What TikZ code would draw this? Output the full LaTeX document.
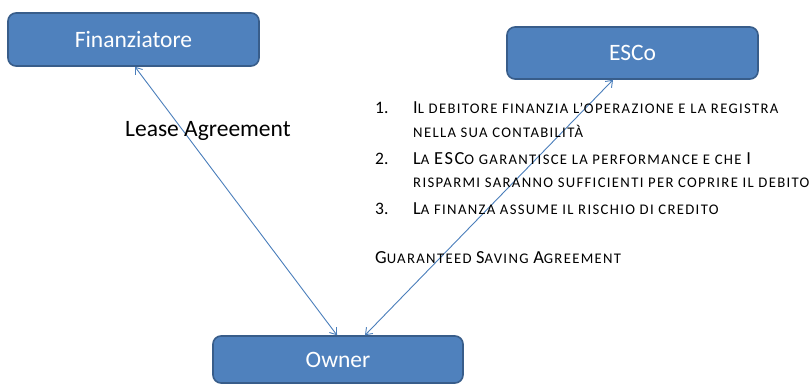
\documentclass[tikz,border=0pt]{standalone}
\usepackage{fontspec}
\setmainfont{Carlito}
\newfontfamily\listfont[LetterSpace=9]{Carlito}
\usetikzlibrary{arrows.meta}
\definecolor{boxfill}{HTML}{4F81BD}
\definecolor{boxline}{HTML}{385D8A}
\definecolor{connc}{HTML}{4A7EBB}
\newcommand\BigC[1]{{\fontsize{18.4}{21}\selectfont #1}}
\begin{document}
\begin{tikzpicture}[x=1pt,y=-1pt,
  blockbox/.style={draw=boxline, line width=1.6pt, fill=boxfill, rounded corners=8pt,
    text=white, font=\fontsize{23.5}{28}\selectfont, inner sep=0pt},
  conn/.style={draw=connc, line width=0.9pt, {Straight Barb[length=6pt,width=9pt]}-{Straight Barb[length=6pt,width=9pt]}},
  listtxt/.style={anchor=base west, inner sep=0pt, font=\listfont\fontsize{14.7}{17}\selectfont},
  numtxt/.style={anchor=base west, inner sep=0pt, font=\fontsize{17.5}{20}\selectfont}]
\useasboundingbox (0,0) rectangle (812,384);
\node[blockbox, minimum width=251pt, minimum height=53pt] (fin) at (133.5,39.5) {Finanziatore};
\node[blockbox, minimum width=251pt, minimum height=52pt] (esco) at (632.5,53) {ESCo};
\node[blockbox, minimum width=250pt, minimum height=47pt] (own) at (338,359.5) {Owner};
\draw[conn] ([xshift=1.5pt]fin.south) -- ([xshift=-1pt]own.north);
\draw[conn] ([xshift=-19.5pt]esco.south) -- ([xshift=27pt]own.north);
\node[anchor=base west, inner sep=0pt, font=\fontsize{23.5}{28}\selectfont] (lease) at (125,136) {Lease Agreement};
\node[numtxt] (n1) at (375,113) {1.};
\node[listtxt] (l1) at (413,113) {\BigC{I}L DEBITORE FINANZIA L’OPERAZIONE E LA REGISTRA};
\node[listtxt] (l2) at (413,137) {NELLA SUA CONTABILITÀ};
\node[numtxt] (n2) at (375,164) {2.};
\node[listtxt] (l3) at (413,164) {\BigC{L}A \BigC{ESC}O GARANTISCE LA PERFORMANCE E CHE \BigC{I}};
\node[listtxt] (l4) at (413,187) {RISPARMI SARANNO SUFFICIENTI PER COPRIRE IL DEBITO};
\node[numtxt] (n3) at (375,214) {3.};
\node[listtxt] (l5) at (413,214) {\BigC{L}A FINANZA ASSUME IL RISCHIO DI CREDITO};
\node[listtxt] (g) at (375,263) {\BigC{G}UARANTEED \BigC{S}AVING \BigC{A}GREEMENT};
\end{tikzpicture}
\end{document}
